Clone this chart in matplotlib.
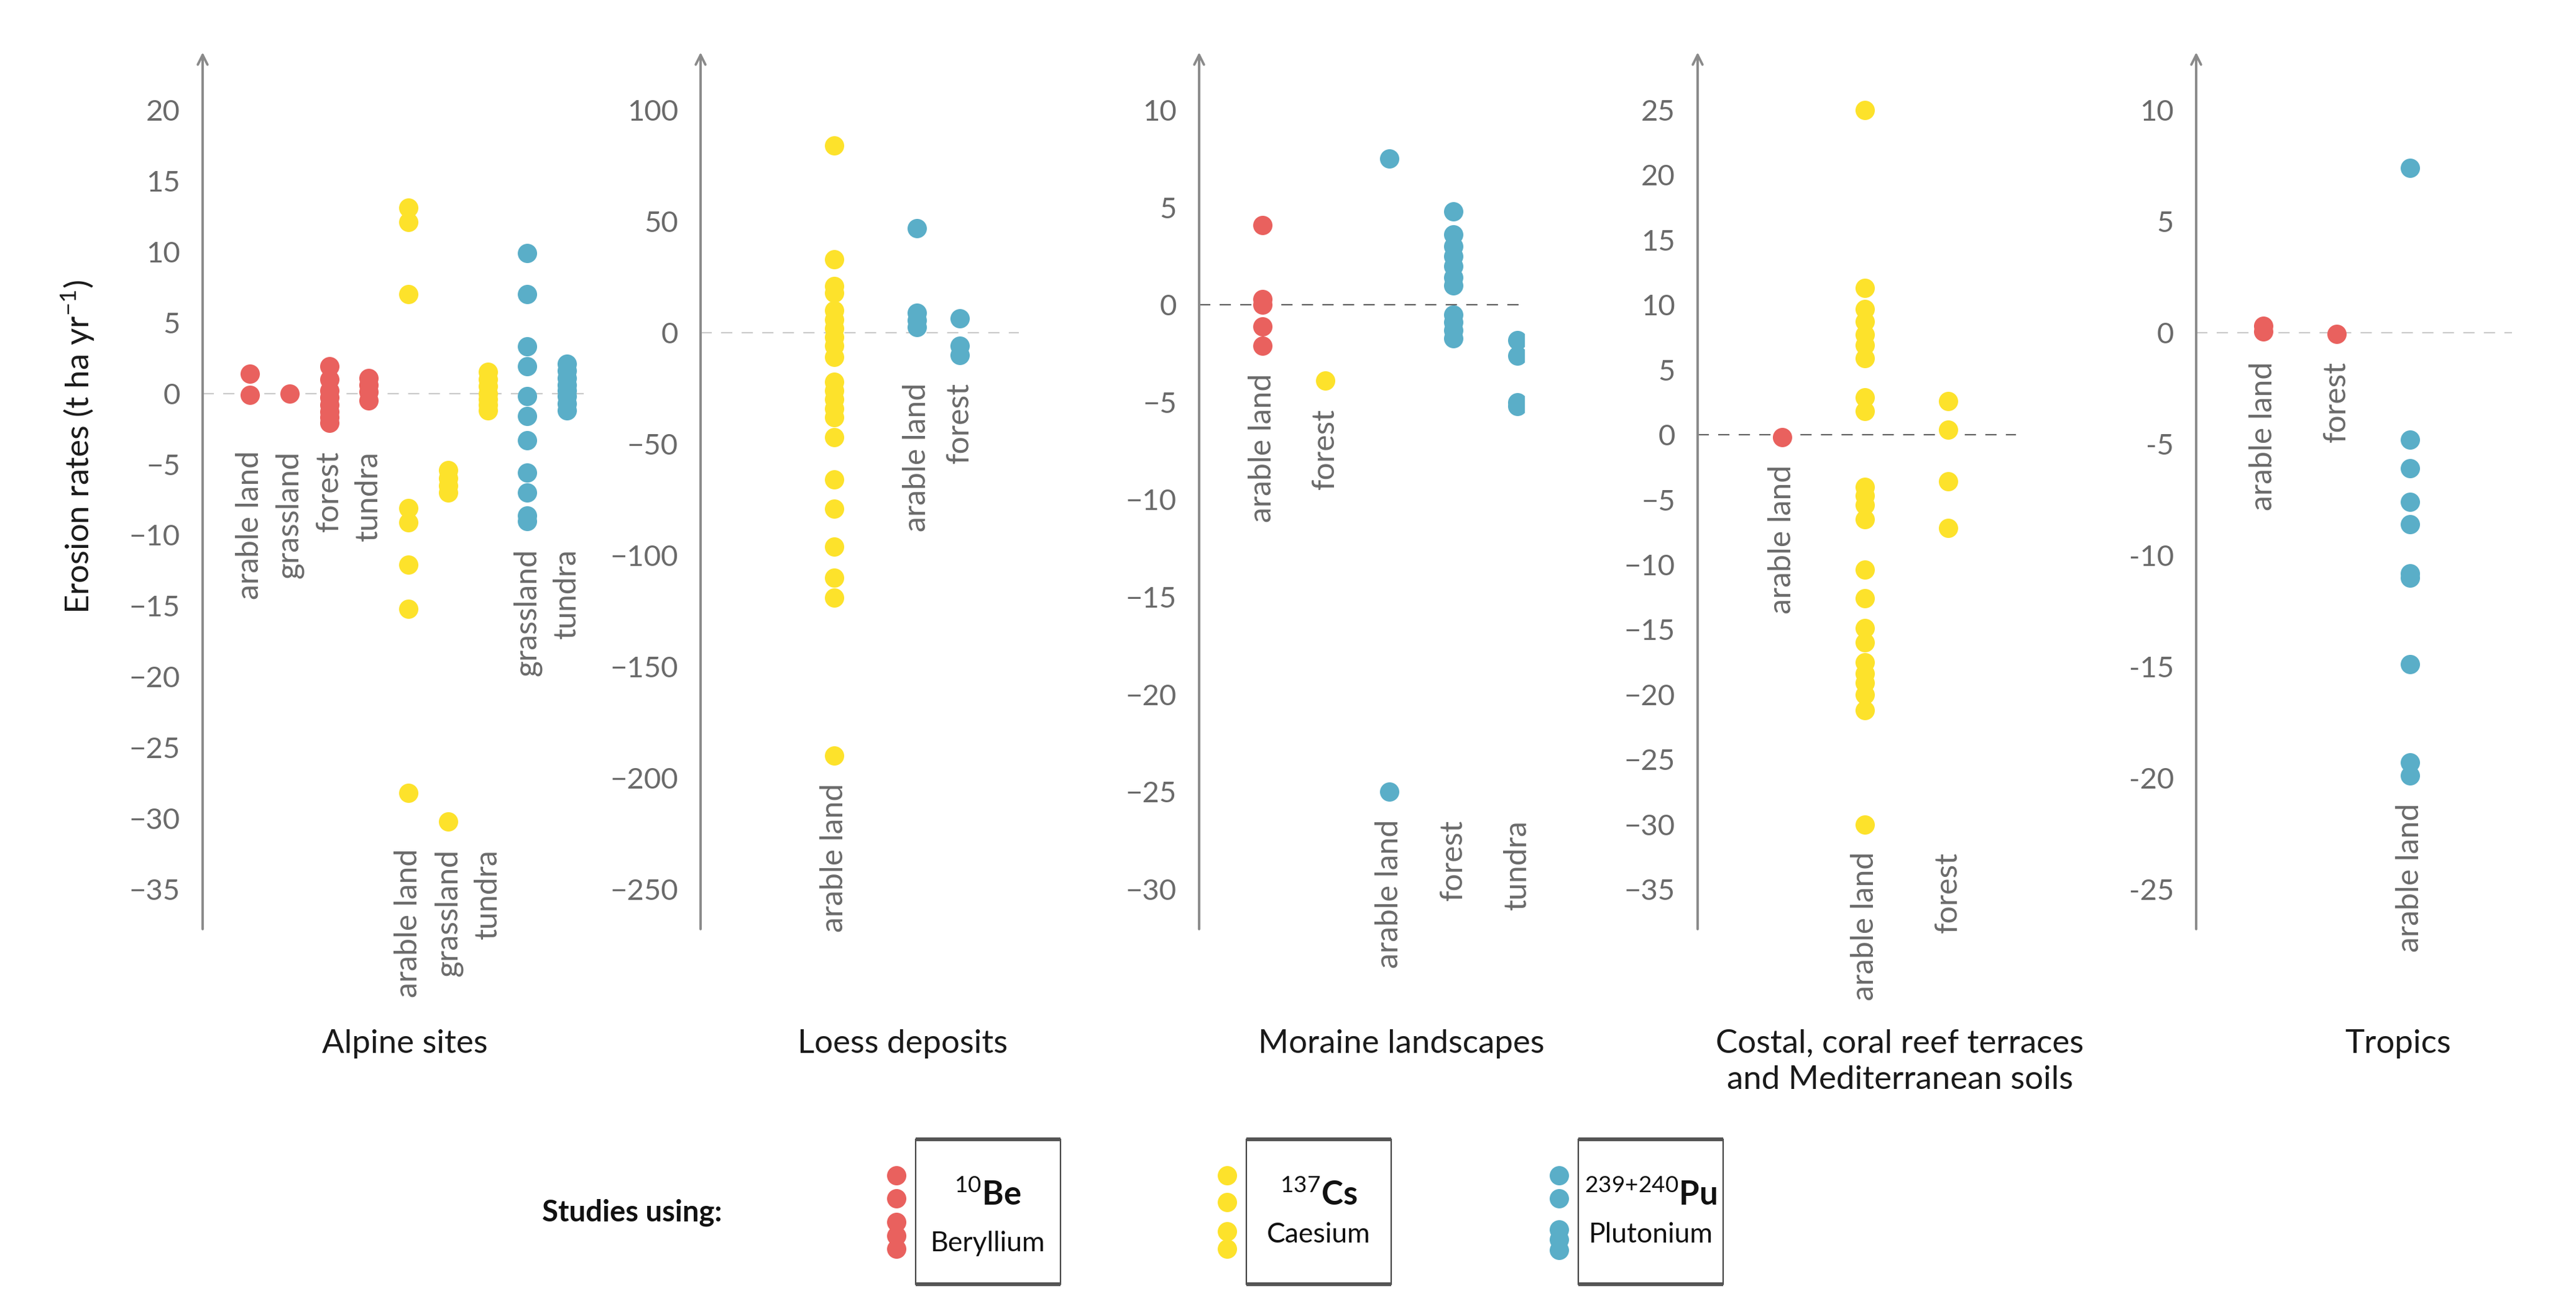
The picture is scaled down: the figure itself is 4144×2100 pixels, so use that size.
import matplotlib
matplotlib.use("Agg")
import matplotlib.pyplot as plt
from matplotlib.patches import Rectangle
from matplotlib.ticker import FuncFormatter

plt.rcParams['font.family'] = ['Lato', 'DejaVu Sans']
plt.rcParams['mathtext.fontset'] = 'custom'
plt.rcParams['mathtext.rm'] = 'Lato'
plt.rcParams['mathtext.bf'] = 'Lato:bold'
plt.rcParams['lines.scale_dashes'] = False

# ----------------------------
# data (erosion rates, t ha-1 yr-1)
# ----------------------------
# Alpine sites
alp_be_arable = [1.4, -0.1]
alp_be_grass = [0.0]
alp_be_forest = [1.9, 1.0, 0.2, -0.3, -0.8, -1.3, -1.7, -2.1]
alp_be_tundra = [1.1, 0.6, 0.1, -0.5]
alp_cs_arable = [13.1, 12.1, 7.0, -8.1, -9.1, -12.1, -15.2, -28.2]
alp_cs_grass = [-5.4, -6.0, -6.5, -7.0, -30.2]
alp_cs_tundra = [1.5, 1.0, 0.5, 0.0, -0.4, -0.8, -1.2]
alp_pu_grass = [9.9, 7.0, 3.3, 1.9, -0.2, -1.6, -3.3, -5.6, -7.0, -8.6, -9.0]
alp_pu_tundra = [2.1, 1.6, 1.1, 0.6, 0.2, -0.2, -0.7, -1.2]

# Loess deposits
loe_cs_arable = [84, 33, 21, 18, 10, 6, 2, -2, -6, -11, -22, -26, -30, -34, -38,
                 -47, -66, -79, -96, -110, -119, -190]
loe_pu_arable = [47, 9, 5.5, 2.5]
loe_pu_forest = [6.5, -6, -10]

# Moraine landscapes
mor_be_arable = [4.1, 0.3, 0.0, -1.1, -2.1]
mor_cs_forest = [-3.9]
mor_pu_arable = [7.5, -25.0]
mor_pu_forest = [4.8, 3.6, 3.0, 2.5, 2.0, 1.4, 1.0, -0.5, -0.9, -1.3, -1.7]
mor_pu_tundra = [-1.8, -2.6, -5.0, -5.2]

# Costal, coral reef terraces and Mediterranean soils
cos_be_arable = [-0.2]
cos_cs_arable = [25, 11.3, 9.7, 8.7, 7.7, 6.9, 5.9, 2.9, 1.8, -4.0, -4.7, -5.4, -6.5,
                 -10.4, -12.6, -14.9, -16.0, -17.5, -18.4, -19.1, -20.0, -21.2, -30.0]
cos_cs_forest = [2.6, 0.4, -3.6, -7.2]

# Tropics
tro_be_arable = [0.3, 0.05]
tro_be_forest = [-0.05]
tro_pu_arable = [7.4, -4.8, -6.1, -7.6, -8.6, -10.8, -11.0, -14.9, -19.3, -19.9]

panel_titles = ["Alpine sites", "Loess deposits", "Moraine landscapes",
                "Costal, coral reef terraces\nand Mediterranean soils", "Tropics"]
tick_top = [20, 100, 10, 25, 10]
tick_bottom = [-35, -250, -30, -35, -25]
tick_step = [5, 50, 5, 5, 5]

# (isotope, land use, values) per panel
panels = [
    [("Be", "arable land", alp_be_arable), ("Be", "grassland", alp_be_grass),
     ("Be", "forest", alp_be_forest), ("Be", "tundra", alp_be_tundra),
     ("Cs", "arable land", alp_cs_arable), ("Cs", "grassland", alp_cs_grass),
     ("Cs", "tundra", alp_cs_tundra),
     ("Pu", "grassland", alp_pu_grass), ("Pu", "tundra", alp_pu_tundra)],
    [("Cs", "arable land", loe_cs_arable),
     ("Pu", "arable land", loe_pu_arable), ("Pu", "forest", loe_pu_forest)],
    [("Be", "arable land", mor_be_arable), ("Cs", "forest", mor_cs_forest),
     ("Pu", "arable land", mor_pu_arable), ("Pu", "forest", mor_pu_forest),
     ("Pu", "tundra", mor_pu_tundra)],
    [("Be", "arable land", cos_be_arable),
     ("Cs", "arable land", cos_cs_arable), ("Cs", "forest", cos_cs_forest)],
    [("Be", "arable land", tro_be_arable), ("Be", "forest", tro_be_forest),
     ("Pu", "arable land", tro_pu_arable)],
]

# ----------------------------
# layout (pixels of the 4144x2100 figure)
# ----------------------------
W, H = 4144, 2100
ax_left = [326, 1127, 1929, 2731, 3533]
ax_width = [624, 512, 523, 512, 508]
col_x = [
    [76 + 63.75 * i for i in range(9)],
    [215, 348, 417],
    [102, 203, 306, 409, 512],
    [136, 269, 403],
    [108, 226, 344],
]
zero_color = ['#c9c9c9', '#c9c9c9', '#606060', '#606060', '#c9c9c9']
ax_top, ax_bot = 84, 1494
f_top_tick = (ax_bot - 177) / (ax_bot - ax_top)
f_bot_tick = (ax_bot - 1430) / (ax_bot - ax_top)

colors = {"Be": "#e9615e", "Cs": "#fde22b", "Pu": "#5aaec8"}
spine_c = '#8a8a8a'
msize = 125

fig = plt.figure(figsize=(W / 200, H / 200), dpi=200)

for k, cats in enumerate(panels):
    ax = fig.add_axes([ax_left[k] / W, 1 - ax_bot / H, ax_width[k] / W, (ax_bot - ax_top) / H])
    rng = (tick_top[k] - tick_bottom[k]) / (f_top_tick - f_bot_tick)
    lo = tick_bottom[k] - f_bot_tick * rng
    ax.set_ylim(lo, lo + rng)
    ax.set_xlim(0, ax_width[k])
    for s in ax.spines.values():
        s.set_visible(False)
    ax.set_xticks([])
    ticks = list(range(tick_bottom[k], tick_top[k] + 1, tick_step[k]))
    ax.set_yticks(ticks)
    ax.tick_params(axis='y', length=0, pad=13, labelsize=17, labelcolor='#6a6a6a')
    if k == 4:
        ax.yaxis.set_major_formatter(FuncFormatter(lambda v, p: f"{v:g}"))
    ax.annotate('', xy=(0, 1), xytext=(0, 0), xycoords='axes fraction',
                arrowprops=dict(arrowstyle='->', color=spine_c, lw=1.4,
                                mutation_scale=14, shrinkA=0, shrinkB=0))
    ax.axhline(0, color=zero_color[k], lw=0.8, ls=(0, (6.5, 5.4)), zorder=1)

    # lowest value of each isotope group -> label height
    group_min = {}
    for iso, lab, vals in cats:
        group_min[iso] = min(group_min.get(iso, 1e9), min(vals))
    for j, (iso, lab, vals) in enumerate(cats):
        x = col_x[k][j]
        ax.scatter([x] * len(vals), vals, s=msize, color=colors[iso], lw=0, zorder=3)
        ax.annotate(lab, xy=(x, group_min[iso]), xytext=(0, -16), textcoords='offset points',
                    rotation=90, ha='center', va='top', fontsize=18, color='#6a6a6a',
                    family=['Liberation Sans Narrow', 'Lato'])

    fig.text((ax_left[k] + 325) / W, 1 - 1655 / H, panel_titles[k], ha='center', va='top',
             fontsize=19, color='#1a1a1a', linespacing=1.3)

fig.text(125 / W, 1 - 718 / H, 'Erosion rates (t ha yr$^{-1}$)', rotation=90,
         ha='center', va='center', fontsize=19, color='#1a1a1a')

# ----------------------------
# legend
# ----------------------------
lax = fig.add_axes([0, 0, 1, 1])
lax.set_xlim(0, W)
lax.set_ylim(H, 0)
lax.axis('off')

lax.text(1017, 1950, 'Studies using:', ha='center', va='center', fontsize=17,
         fontweight='bold', color='#111111')

leg_iso = ["Be", "Cs", "Pu"]
leg_sym = ['$^{10}$Be', '$^{137}$Cs', '$^{239{+}240}$Pu']
leg_name = ["Beryllium", "Caesium", "Plutonium"]
leg_box_x = [1473, 2005, 2539]
leg_dot_y = [[1890, 1927, 1965, 1987, 2008],
             [1890, 1933, 1980, 2008],
             [1890, 1927, 1977, 1993, 2010]]
leg_name_y = [2000, 1985, 1985]
box_w, box_top, box_bot = 233, 1832, 2065

for i, iso in enumerate(leg_iso):
    bx = leg_box_x[i]
    lax.add_patch(Rectangle((bx, box_top), box_w, box_bot - box_top, fill=False,
                            ec='#444444', lw=0.8))
    lax.plot([bx, bx + box_w], [box_top, box_top], color='#555555', lw=2.2,
             solid_capstyle='butt')
    lax.plot([bx, bx + box_w], [box_bot, box_bot], color='#555555', lw=2.2,
             solid_capstyle='butt')
    lax.scatter([bx - 31] * len(leg_dot_y[i]), leg_dot_y[i], s=msize,
                color=colors[iso], lw=0)
    lax.text(bx + box_w / 2, 1922, leg_sym[i], ha='center', va='center', fontsize=19,
             fontweight='bold', color='#111111')
    lax.text(bx + box_w / 2, leg_name_y[i], leg_name[i], ha='center', va='center',
             fontsize=16, color='#111111')

fig.savefig("out.png", dpi=200, facecolor='white')
